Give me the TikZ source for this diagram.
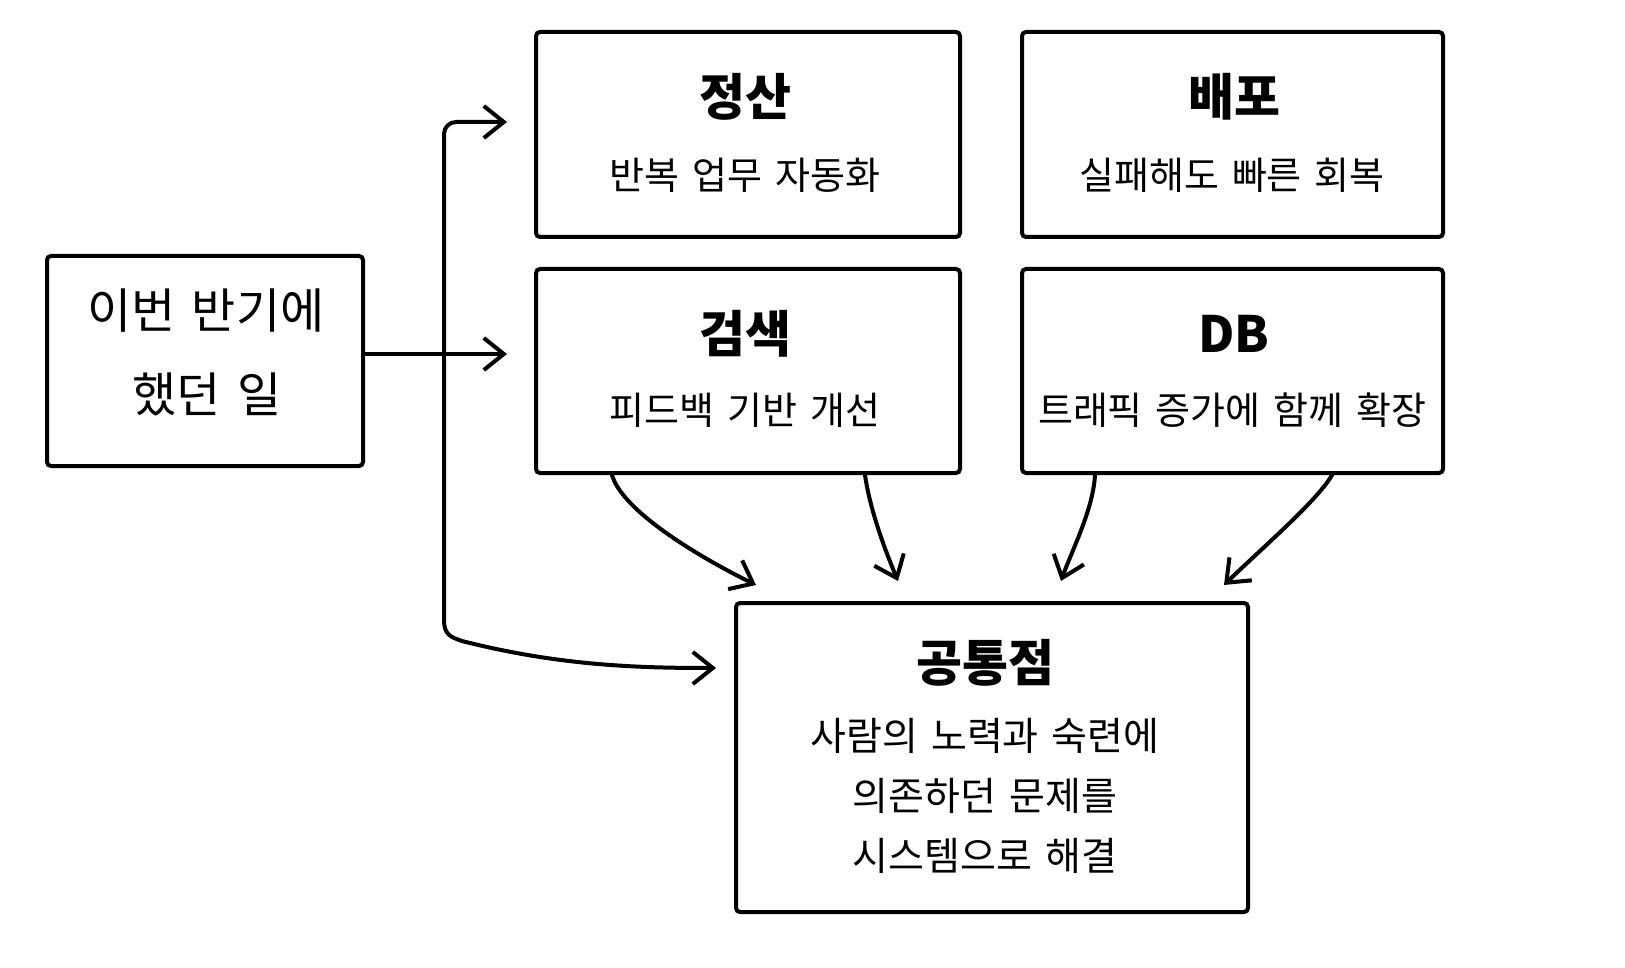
\documentclass[tikz,border=0pt]{standalone}
\usepackage{fontspec}
\setmainfont[WordSpace=1.5]{Noto Sans CJK KR}
\usetikzlibrary{arrows.meta}
\begin{document}
\begin{tikzpicture}[x=1pt,y=-1pt,
  box/.style={draw=black, line width=4pt, rounded corners=4pt, inner sep=0pt, fill=white},
  ttl/.style={font=\fontsize{50}{56}\selectfont\bfseries, inner sep=0pt},
  sub/.style={font=\fontsize{38}{44}\selectfont, inner sep=0pt},
  big/.style={font=\fontsize{48}{54}\selectfont, inner sep=0pt},
  com/.style={font=\fontsize{39}{45}\selectfont, inner sep=0pt},
  arr/.style={line width=4pt, -{Straight Barb[length=20pt,width=32pt]}, line cap=round, line join=round}]
\useasboundingbox[fill=white] (0,0) rectangle (1625,968);

% boxes
\node[box, minimum width=316pt, minimum height=210pt] (L) at (205,361) {};
\node[box, minimum width=424pt, minimum height=205pt] (A) at (748,134.5) {};
\node[box, minimum width=421pt, minimum height=205pt] (B) at (1232.5,134.5) {};
\node[box, minimum width=424pt, minimum height=204pt] (C) at (748,371) {};
\node[box, minimum width=421pt, minimum height=204pt] (D) at (1232.5,371) {};
\node[box, minimum width=512pt, minimum height=309pt] (E) at (992,757.5) {};

% texts
\node[big] (Lt1) at (206,311) {이번 반기에};
\node[big] (Lt2) at (207,394) {했던 일};
\node[ttl] (At) at (745,97) {정산};
\node[sub] (As) at (745,175) {반복 업무 자동화};
\node[ttl] (Bt) at (1234,97) {배포};
\node[sub] (Bs) at (1232,175) {실패해도 빠른 회복};
\node[ttl] (Ct) at (745,334) {검색};
\node[sub] (Cs) at (745,410) {피드백 기반 개선};
\node[ttl] (Dt) at (1234,334) {DB};
\node[sub] (Ds) at (1232,410) {트래픽 증가에 함께 확장};
\node[ttl] (Et) at (985,663) {공통점};
\node[com] (Es1) at (985,736) {사람의 노력과 숙련에};
\node[com] (Es2) at (985,796) {의존하던 문제를};
\node[com] (Es3) at (985,856) {시스템으로 해결};

% connectors
\coordinate (cin) at (507,354);
\coordinate (j) at (444,354);
\coordinate (ain) at (507,122);
\coordinate (ein) at (716,668);
\draw[arr] (L.east |- cin) -- (cin);
\draw[arr, rounded corners=12pt] (j) |- (ain);
\draw[arr] (j) -- (444,620) .. controls (444,634) and (450,637) .. (462,641)
  .. controls (560,666) and (640,668) .. (ein);

\draw[arr] ([xshift=-136pt]C.south) .. controls (622,510) and (695,555) .. ([xshift=-236pt,yshift=16pt]E.north);
\draw[arr] ([xshift=117pt]C.south) .. controls (870,510) and (885,550) .. ([xshift=-94pt,yshift=20pt]E.north);
\draw[arr] ([xshift=-137.5pt]D.south) .. controls (1093,510) and (1072,550) .. ([xshift=69pt,yshift=20pt]E.north);
\draw[arr] ([xshift=99.5pt]D.south) .. controls (1318,500) and (1260,550) .. ([xshift=232pt,yshift=16pt]E.north);
\end{tikzpicture}
\end{document}
